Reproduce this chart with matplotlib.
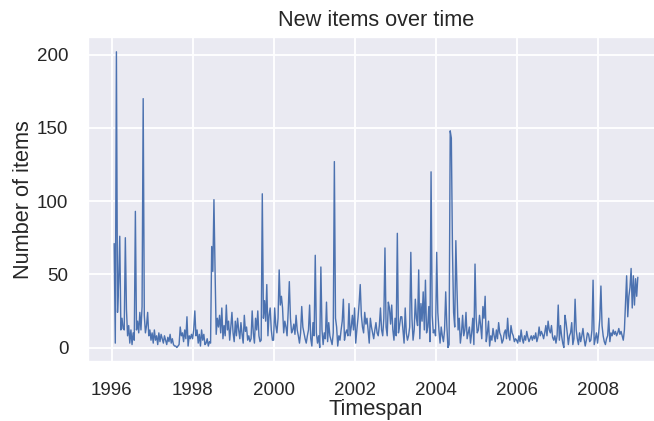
import numpy as np
import pandas as pd
import matplotlib
matplotlib.use('Agg')
import matplotlib.pyplot as plt
import matplotlib.dates as mdates
import seaborn as sns

# Counts of new items, one list per calendar year (roughly every 10 days)
counts_1996 = [71, 3, 202, 24, 45, 76, 12, 20, 13, 12, 75, 26, 8, 15, 3, 12, 2, 10, 5, 93,
               12, 18, 10, 24, 12, 28, 170, 22, 10, 15, 24, 8, 12, 5]
counts_1997 = [10, 3, 12, 5, 8, 2, 10, 4, 9, 6, 3, 8, 5, 2, 7, 4, 9, 3, 6, 2,
               1, 1, 0, 1, 2, 14, 8, 10, 4, 12, 6, 21, 1, 8, 6, 9]
counts_1998 = [6, 12, 25, 8, 12, 3, 9, 1, 12, 5, 9, 2, 3, 6, 1, 4, 3, 69, 52, 101,
               52, 9, 20, 14, 22, 10, 27, 6, 15, 8, 29, 12, 18, 5, 14, 24]
counts_1999 = [10, 4, 18, 8, 20, 12, 6, 17, 9, 3, 22, 11, 14, 5, 8, 4, 6, 25, 10, 3,
               20, 12, 25, 8, 4, 5, 105, 20, 32, 18, 43, 8, 22, 27, 12, 5]
counts_2000 = [5, 27, 15, 10, 20, 53, 29, 35, 27, 10, 18, 14, 8, 25, 45, 20, 10, 12, 16, 9,
               22, 12, 8, 3, 10, 28, 14, 10, 6, 3, 8, 12, 29, 6, 1, 17]
counts_2001 = [8, 63, 10, 3, 8, 0, 55, 12, 2, 10, 6, 31, 4, 17, 8, 5, 2, 10, 127, 20,
               14, 1, 8, 5, 12, 18, 33, 5, 10, 12, 8, 30, 8, 14, 22, 12]
counts_2002 = [27, 3, 12, 20, 30, 43, 22, 14, 10, 24, 16, 20, 12, 3, 20, 14, 10, 6, 12, 17,
               10, 8, 15, 27, 12, 8, 20, 68, 14, 8, 31, 27, 16, 29, 12, 5]
counts_2003 = [20, 8, 78, 10, 15, 21, 21, 12, 3, 27, 10, 5, 8, 14, 65, 20, 5, 12, 33, 20,
               15, 53, 6, 30, 18, 38, 12, 46, 10, 14, 28, 4, 120, 22, 10, 12]
counts_2004 = [8, 65, 24, 12, 3, 14, 8, 4, 12, 38, 15, 0, 2, 148, 143, 67, 24, 14, 73, 40,
               12, 20, 3, 10, 22, 8, 12, 24, 6, 10, 14, 3, 10, 20, 2, 57]
counts_2005 = [20, 10, 12, 22, 15, 6, 28, 20, 35, 4, 10, 18, 1, 8, 5, 13, 8, 4, 12, 6,
               17, 10, 8, 3, 5, 10, 12, 6, 20, 8, 5, 15, 10, 8, 4, 6]
counts_2006 = [5, 3, 8, 4, 12, 6, 3, 8, 5, 11, 7, 4, 6, 8, 5, 8, 6, 10, 4, 7,
               14, 8, 11, 9, 6, 10, 15, 8, 18, 12, 10, 15, 7, 5, 8, 3]
counts_2007 = [8, 29, 5, 15, 8, 3, 0, 22, 17, 10, 2, 8, 10, 17, 2, 6, 33, 12, 6, 2,
               10, 4, 8, 13, 6, 1, 5, 10, 9, 4, 5, 12, 46, 2, 6, 10]
counts_2008 = [3, 10, 20, 42, 15, 8, 4, 2, 6, 8, 20, 4, 10, 8, 12, 9, 11, 8, 10, 13,
               9, 11, 8, 5, 12, 30, 49, 21, 35, 41, 54, 27, 49, 29, 47, 35, 48]

yearly = {
    1996: ('1996-01-25', '1997-01-01', counts_1996),
    1997: ('1997-01-01', '1998-01-01', counts_1997),
    1998: ('1998-01-01', '1999-01-01', counts_1998),
    1999: ('1999-01-01', '2000-01-01', counts_1999),
    2000: ('2000-01-01', '2001-01-01', counts_2000),
    2001: ('2001-01-01', '2002-01-01', counts_2001),
    2002: ('2002-01-01', '2003-01-01', counts_2002),
    2003: ('2003-01-01', '2004-01-01', counts_2003),
    2004: ('2004-01-01', '2005-01-01', counts_2004),
    2005: ('2005-01-01', '2006-01-01', counts_2005),
    2006: ('2006-01-01', '2007-01-01', counts_2006),
    2007: ('2007-01-01', '2008-01-01', counts_2007),
    2008: ('2008-01-01', '2009-01-08', counts_2008),
}

parts = []
for year, (start, end, vals) in yearly.items():
    idx = pd.date_range(start, end, periods=len(vals) + 1)[:-1]
    parts.append(pd.Series(vals, index=idx))
series = pd.concat(parts)

sns.set_theme(style='darkgrid')
plt.rcParams['font.family'] = ['Liberation Sans', 'DejaVu Sans']

fig = plt.figure(figsize=(654 / 135, 421 / 135), dpi=135)
ax = fig.add_axes([88 / 654, 1 - 362.3 / 421, 576 / 654, 325.3 / 421])
ax.plot(series.index, series.values, color='#4C72B0', linewidth=0.75)

ax.xaxis.set_major_locator(mdates.YearLocator(2))
ax.xaxis.set_major_formatter(mdates.DateFormatter('%Y'))
ax.tick_params(axis='both', labelsize=10, pad=4.5)
ax.set_title('New items over time', fontsize=11.6, pad=6)
ax.set_xlabel('Timespan', fontsize=11.6, labelpad=0)
ax.set_ylabel('Number of items', fontsize=11.6, labelpad=1.5)

fig.savefig('out.png', dpi=135)
